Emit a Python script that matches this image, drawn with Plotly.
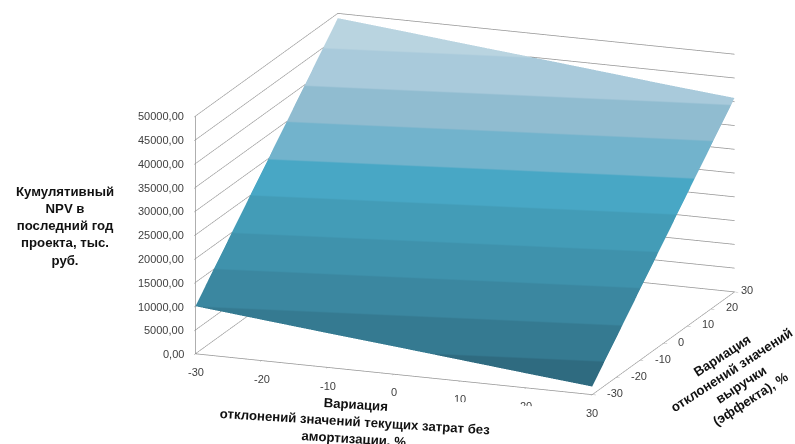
import plotly.graph_objects as go

# Variation of current costs (x) and of revenue (y), percent
cost_variation = [-30, -20, -10, 0, 10, 20, 30]
revenue_variation = [-30, -20, -10, 0, 10, 20, 30]

# Cumulative NPV, one row per revenue step
npv = [
    [10000, 8600, 7200, 5850, 4450, 3050, 1700],
    [16500, 15100, 13750, 12350, 10950, 9600, 8200],
    [23000, 21600, 20250, 18850, 17450, 16100, 14750],
    [29500, 28100, 26750, 25350, 24000, 22600, 21250],
    [36000, 34650, 33250, 31850, 30500, 29100, 27800],
    [42500, 41150, 39750, 38350, 37000, 35600, 34300],
    [49000, 47650, 46250, 44900, 43500, 42100, 40800],
]

z_ticks = [0, 5000, 10000, 15000, 20000, 25000, 30000, 35000, 40000, 45000, 50000]
z_tick_labels = ["0,00", "5000,00", "10000,00", "15000,00", "20000,00", "25000,00",
                 "30000,00", "35000,00", "40000,00", "45000,00", "50000,00"]

# One flat colour per 5000 band of the surface
band_colors = ["#2f6b80", "#357a91", "#3b87a0", "#3f92ac", "#439cb7",
               "#48a7c5", "#72b3cc", "#90bcd0", "#a9cadb", "#b9d4e0"]

colorscale = []
for i, c in enumerate(band_colors):
    colorscale.append([i / len(band_colors), c])
    colorscale.append([(i + 1) / len(band_colors), c])

LINE_COLOR = "#949494"
TICK_FONT = dict(family="Liberation Sans", size=11, color="#404040")
TITLE_COLOR = "#111111"


def axis(vals, grid, top=None):
    # Tick labels are placed separately as scene annotations
    return dict(
        tickmode="array", tickvals=vals, showticklabels=False,
        range=[vals[0], top if top is not None else vals[-1]], autorange=False,
        title=dict(text=""),
        showgrid=grid, gridcolor=LINE_COLOR, gridwidth=1.5,
        showline=True, linecolor=LINE_COLOR, linewidth=1.5,
        ticks="outside", tickcolor=LINE_COLOR, ticklen=4,
        zeroline=False, showbackground=False, showspikes=False,
    )


def tick_note(x, y, z, text, xanchor, xshift, yshift):
    return dict(x=x, y=y, z=z, text=text, showarrow=False, font=TICK_FONT,
                xanchor=xanchor, yanchor="middle", xshift=xshift, yshift=yshift)


scene_notes = []
for v, label in zip(z_ticks, z_tick_labels):
    scene_notes.append(tick_note(-30, -30, v, label, "right", -10, 0))
for v in cost_variation:
    scene_notes.append(tick_note(v, -30, 0, str(v), "center", 0, -18))
for v in revenue_variation:
    # The last label sits closer to the corner of the floor
    scene_notes.append(tick_note(30, v, 0, str(v), "left", 4 if v == 30 else 13, 2))

# The cost axis title comes after its tick labels and masks the ones it overlaps
scene_notes.append(dict(
    x=0, y=-30, z=0,
    text="<b>Вариация<br>отклонений значений текущих затрат без<br>амортизации, %</b>",
    showarrow=False, textangle=3.5, align="center", bgcolor="white", width=400,
    font=dict(family="Liberation Sans", size=13.2, color=TITLE_COLOR),
    xanchor="center", yanchor="middle", xshift=-39, yshift=-47,
))

fig = go.Figure(go.Surface(
    x=cost_variation, y=revenue_variation, z=npv,
    colorscale=colorscale, cmin=0, cmax=50000, showscale=False,
    lighting=dict(ambient=1, diffuse=0, specular=0, roughness=1, fresnel=0),
    hoverinfo="skip",
))

fig.update_layout(
    width=795, height=444, margin=dict(l=0, r=0, t=0, b=0),
    paper_bgcolor="white", showlegend=False,
    scene=dict(
        domain=dict(x=[0.17, 1.0], y=[0.085, 0.995]),
        aspectmode="manual", aspectratio=dict(x=2.10, y=1.995, z=1.223),
        camera=dict(eye=dict(x=0.68, y=-1.8, z=0.545), up=dict(x=0, y=0, z=1),
                    center=dict(x=0, y=0, z=0), projection=dict(type="orthographic")),
        xaxis=axis(cost_variation, False),
        yaxis=axis(revenue_variation, False),
        zaxis=axis(z_ticks, True, top=50001),
        annotations=scene_notes,
    ),
)


def title_note(text, px, py, size, angle=0):
    fig.add_annotation(text=text, x=px / 795, y=1 - py / 444, xref="paper", yref="paper",
                       showarrow=False, textangle=angle, align="center",
                       font=dict(family="Liberation Sans", size=size, color=TITLE_COLOR),
                       xanchor="center", yanchor="middle")


title_note("<b>Кумулятивный<br>NPV в<br>последний год<br>проекта, тыс.<br>руб.</b>", 65, 226, 13.2)
title_note("<b>Вариация<br>отклонений значений<br>выручки<br>(эффекта), %</b>",
           736, 377, 13.3, angle=-33)

fig.write_html("out.html")
